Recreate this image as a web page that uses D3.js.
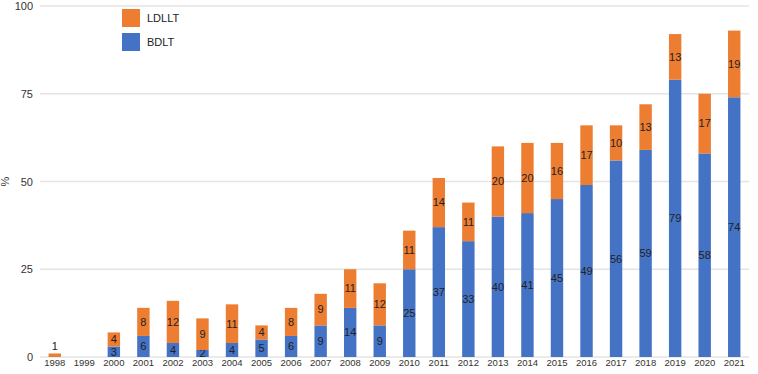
<!DOCTYPE html>
<html>
<head>
<meta charset="utf-8">
<script src="https://cdn.jsdelivr.net/npm/d3@7"></script>
<style>
  body { margin: 0; background: #fff; overflow: hidden; }
  svg { display: block; }
  text { font-family: "Liberation Sans", Arial, Helvetica, sans-serif; }
</style>
</head>
<body>
<div id="chart"></div>
<script>
// data
const years = ["1998","1999","2000","2001","2002","2003","2004","2005","2006","2007","2008","2009",
               "2010","2011","2012","2013","2014","2015","2016","2017","2018","2019","2020","2021"];
const bdlt  = [0, 0, 3, 6, 4, 2, 4, 5, 6, 9, 14, 9, 25, 37, 33, 40, 41, 45, 49, 56, 59, 79, 58, 74];
const ldllt = [1, 0, 4, 8, 12, 9, 11, 4, 8, 9, 11, 12, 11, 14, 11, 20, 20, 16, 17, 10, 13, 13, 17, 19];
const yTicks = [0, 25, 50, 75, 100];
const seriesNames = ["BDLT", "LDLLT"];

const width = 758;
const height = 374;
const margin = {top: 6, right: 9, bottom: 17, left: 40};
const innerWidth = width - margin.left - margin.right;
const innerHeight = height - margin.top - margin.bottom;

const colors = {BDLT: "#4472C4", LDLLT: "#ED7D31"};
const fontColor = "#222";

const rows = years.map((y, i) => ({year: y, BDLT: bdlt[i], LDLLT: ldllt[i]}));

const svg = d3.select("#chart").append("svg")
    .attr("width", width)
    .attr("height", height);

const g = svg.append("g")
    .attr("transform", `translate(${margin.left},${margin.top})`);

const xScale = d3.scaleBand()
    .domain(years)
    .range([0, innerWidth])
    .paddingInner(0.58)
    .paddingOuter(0.29);

const yScale = d3.scaleLinear()
    .domain([0, 100])
    .range([innerHeight, 0]);

// grid
g.append("g")
    .selectAll("line")
    .data(yTicks)
    .join("line")
    .attr("x1", 0)
    .attr("x2", innerWidth)
    .attr("y1", d => yScale(d))
    .attr("y2", d => yScale(d))
    .attr("stroke", "#e4e4e4")
    .attr("stroke-width", 1.5);

// y axis
const yAxis = g.append("g")
    .call(d3.axisLeft(yScale).tickValues(yTicks).tickSize(0).tickPadding(7));
yAxis.select(".domain").remove();
yAxis.selectAll("text")
    .style("font-size", "11px")
    .attr("fill", "#333");

svg.append("text")
    .attr("transform", `translate(9,${margin.top + innerHeight / 2}) rotate(-90)`)
    .attr("text-anchor", "middle")
    .style("font-size", "11px")
    .attr("fill", "#333")
    .text("%");

// x axis
const xAxis = g.append("g")
    .attr("transform", `translate(0,${innerHeight})`)
    .call(d3.axisBottom(xScale).tickSize(0).tickPadding(2));
xAxis.select(".domain").remove();
xAxis.selectAll("text")
    .style("font-size", "9.5px")
    .attr("fill", "#333");

// stacked bars
const stacked = d3.stack().keys(seriesNames)(rows);

const layers = g.append("g").selectAll("g")
    .data(stacked)
    .join("g")
    .attr("fill", d => colors[d.key]);

layers.selectAll("rect")
    .data(d => d.filter(p => p[1] - p[0] > 0))
    .join("rect")
    .attr("x", d => xScale(d.data.year))
    .attr("width", xScale.bandwidth())
    .attr("y", d => yScale(d[1]))
    .attr("height", d => yScale(d[0]) - yScale(d[1]));

// value labels
layers.selectAll("text")
    .data(d => d.filter(p => p[1] - p[0] > 0))
    .join("text")
    .attr("x", d => xScale(d.data.year) + xScale.bandwidth() / 2)
    .attr("y", d => {
        const h = yScale(d[0]) - yScale(d[1]);
        if (h < 6) return yScale(d[1]) - 7;
        return (yScale(d[0]) + yScale(d[1])) / 2;
    })
    .attr("dy", "0.35em")
    .attr("text-anchor", "middle")
    .style("font-size", "11px")
    .attr("fill", fontColor)
    .text(d => d[1] - d[0]);

// legend
const legend = svg.append("g")
    .attr("transform", "translate(122,9)");
const legendItems = ["LDLLT", "BDLT"];
legendItems.forEach((k, i) => {
    legend.append("rect")
        .attr("x", 0)
        .attr("y", i * 24)
        .attr("width", 18)
        .attr("height", 18)
        .attr("fill", colors[k]);
    legend.append("text")
        .attr("x", 25)
        .attr("y", i * 24 + 9)
        .attr("dy", "0.35em")
        .style("font-size", "11px")
        .attr("fill", fontColor)
        .text(k);
});
</script>
</body>
</html>
